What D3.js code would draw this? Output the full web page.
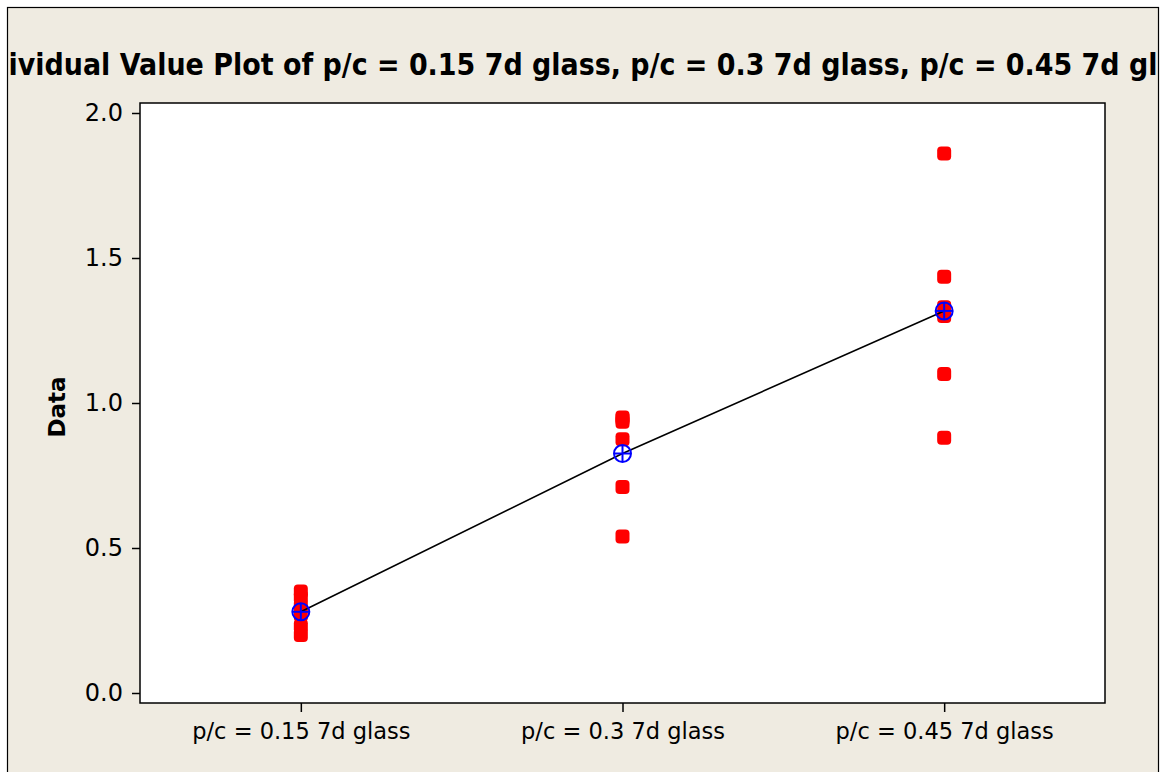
<!DOCTYPE html>
<html>
<head>
<meta charset="utf-8">
<script src="https://cdn.jsdelivr.net/npm/d3@7"></script>
<style>
  html, body { margin: 0; padding: 0; background: #ffffff; }
  svg { display: block; }
</style>
</head>
<body>
<svg id="chart" width="1168" height="772"></svg>
<script>
// ---- data ----
const titleText = "Individual Value Plot of p/c = 0.15 7d glass, p/c = 0.3 7d glass, p/c = 0.45 7d glass";
const yLabel = "Data";
const categories = ["p/c = 0.15 7d glass", "p/c = 0.3 7d glass", "p/c = 0.45 7d glass"];
const group015 = [0.35, 0.33, 0.30, 0.27, 0.23, 0.20];
const group030 = [0.95, 0.945, 0.935, 0.875, 0.71, 0.54];
const group045 = [1.86, 1.435, 1.33, 1.30, 1.10, 0.88];
const yTicks = [0.0, 0.5, 1.0, 1.5, 2.0];

const groups = [group015, group030, group045];
const means = groups.map(g => d3.mean(g));

// ---- layout ----
const frame = {x: 7.5, y: 7.5, w: 1151, h: 800};
const plot = {left: 140, top: 103, right: 1105, bottom: 703};
const bg = "#efebe1";
const font = "'DejaVu Sans', Verdana, sans-serif";

const svg = d3.select("#chart");

svg.append("defs").append("clipPath").attr("id", "frameClip")
  .append("rect").attr("x", frame.x + 0.5).attr("y", frame.y).attr("width", frame.w - 1).attr("height", frame.h);

svg.append("rect").attr("x", frame.x).attr("y", frame.y).attr("width", frame.w).attr("height", frame.h)
  .attr("fill", bg).attr("stroke", "#000").attr("stroke-width", 1.2);

// Title (clipped by the frame like the original)
const titleSize = 31;
function measure(str, size, weight) {
  const t = svg.append("text").attr("font-family", font).attr("font-size", size)
    .attr("font-weight", weight).text(str);
  const w = t.node().getComputedTextLength();
  t.remove();
  return w;
}
const fullW = measure(titleText, titleSize, "bold");
const prefW = measure("Ind", titleSize, "bold");
const visW = measure(titleText.slice(3, titleText.length - 3), titleSize, "bold");
const r = 1149 / visW;
svg.append("g").attr("clip-path", "url(#frameClip)")
  .append("text")
  .attr("x", 8.5 - prefW * r).attr("y", 75)
  .attr("font-family", font).attr("font-size", titleSize).attr("font-weight", "bold")
  .attr("textLength", fullW * r).attr("lengthAdjust", "spacingAndGlyphs")
  .attr("fill", "#000")
  .text(titleText);

// Scales
const x = d3.scalePoint().domain(categories).range([plot.left, plot.right]).padding(0.5);
const y = d3.scaleLinear().domain([-10 / 290, 2 + 10 / 290]).range([plot.bottom, plot.top]);

// Plot area
svg.append("rect").attr("x", plot.left).attr("y", plot.top)
  .attr("width", plot.right - plot.left).attr("height", plot.bottom - plot.top)
  .attr("fill", "#ffffff");

// Axes
const yAxis = d3.axisLeft(y).tickValues(yTicks).tickFormat(d3.format(".1f")).tickSizeInner(8).tickSizeOuter(0).tickPadding(9);
const gy = svg.append("g").attr("transform", `translate(${plot.left},0)`).call(yAxis);
gy.select(".domain").remove();
gy.selectAll("line").attr("stroke", "#000").attr("stroke-width", 1.5);
gy.selectAll("text").attr("font-family", font).attr("font-size", 24).attr("fill", "#000");

const xAxis = d3.axisBottom(x).tickSizeInner(9).tickSizeOuter(0).tickPadding(11);
const gx = svg.append("g").attr("transform", `translate(0,${plot.bottom})`).call(xAxis);
gx.select(".domain").remove();
gx.selectAll("line").attr("stroke", "#000").attr("stroke-width", 1.5);
gx.selectAll("text").attr("font-family", font).attr("font-size", 22.5).attr("fill", "#000");

// Y label
svg.append("text")
  .attr("transform", `translate(65,${(plot.top + plot.bottom) / 2 + 4}) rotate(-90)`)
  .attr("text-anchor", "middle")
  .attr("font-family", font).attr("font-size", 23).attr("font-weight", "bold")
  .text(yLabel);

// Points
const pts = [];
groups.forEach((g, i) => g.forEach(v => pts.push({cat: categories[i], v})));
const s = 14;
svg.append("g").selectAll("rect").data(pts).join("rect")
  .attr("x", d => x(d.cat) - s / 2).attr("y", d => y(d.v) - s / 2)
  .attr("width", s).attr("height", s).attr("rx", 4).attr("ry", 4)
  .attr("fill", "#ff0000");

// Mean connect line
const meanData = categories.map((c, i) => ({cat: c, v: means[i]}));
svg.append("path").datum(meanData)
  .attr("d", d3.line().x(d => x(d.cat)).y(d => y(d.v)))
  .attr("fill", "none").attr("stroke", "#000").attr("stroke-width", 1.6);

// Mean symbols
const mr = 8.5;
const mg = svg.append("g").selectAll("g").data(meanData).join("g")
  .attr("transform", d => `translate(${x(d.cat)},${y(d.v)})`);
mg.append("circle").attr("r", mr).attr("fill", "none").attr("stroke", "#0000ff").attr("stroke-width", 2);
mg.append("line").attr("x1", -mr).attr("x2", mr).attr("stroke", "#0000ff").attr("stroke-width", 2);
mg.append("line").attr("y1", -mr).attr("y2", mr).attr("stroke", "#0000ff").attr("stroke-width", 2);

// Plot border
svg.append("rect").attr("x", plot.left).attr("y", plot.top)
  .attr("width", plot.right - plot.left).attr("height", plot.bottom - plot.top)
  .attr("fill", "none").attr("stroke", "#000").attr("stroke-width", 1.5);
</script>
</body>
</html>
